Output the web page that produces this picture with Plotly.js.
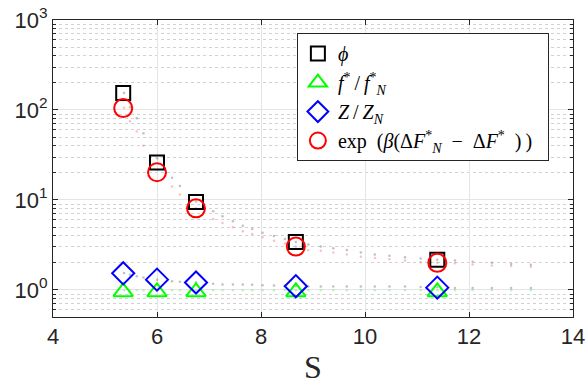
<!DOCTYPE html>
<html>
<head>
<meta charset="utf-8">
<script src="https://cdn.plot.ly/plotly-3.0.1.min.js"></script>
<style>html,body{margin:0;padding:0;background:#fff;}#chart{width:588px;height:385px;}</style>
</head>
<body>
<div id="chart"></div>
<script>
// main markers
const S = [5.35, 6.0, 6.75, 8.67, 11.39];
const phi = [154, 26, 9.5, 3.4, 2.17];
const fRatio = [0.95, 0.95, 0.95, 0.95, 0.95];
const zRatio = [1.53, 1.30, 1.21, 1.10, 1.06];
const expTerm = [105, 20.3, 8.07, 3.03, 2.0];

// fine (faint dotted) curves
const Sfine = [5.365, 5.48, 5.61, 5.74, 6.006, 6.29, 6.44, 6.75, 7.08, 7.26, 7.46, 7.65, 7.83, 8.03, 8.25, 8.46, 8.67, 8.91, 9.15, 9.39, 9.65, 9.92, 10.19, 10.47, 10.77, 11.07, 11.39, 11.73, 12.07, 12.44, 12.81, 13.19];
const phiFine = [154.5, 106.9, 80.7, 55, 28.8, 17.6, 14.3, 9.6, 7.47, 6.57, 5.78, 5.18, 4.76, 4.33, 3.98, 3.69, 3.40, 3.19, 3.03, 2.90, 2.78, 2.60, 2.47, 2.39, 2.30, 2.23, 2.17, 2.12, 2.05, 2.0, 1.94, 1.91];
const expFine = [106, 74.7, 57.8, 40.1, 21.5, 14.1, 11.5, 8.07, 6.15, 5.55, 4.96, 4.48, 4.19, 3.84, 3.53, 3.27, 3.03, 2.78, 2.73, 2.60, 2.47, 2.34, 2.27, 2.19, 2.12, 2.03, 2.0, 1.98, 1.92, 1.87, 1.85, 1.81];
const zFine = [1.54, 1.47, 1.42, 1.37, 1.30, 1.25, 1.23, 1.21, 1.17, 1.15, 1.145, 1.145, 1.14, 1.125, 1.12, 1.11, 1.10, 1.09, 1.09, 1.09, 1.09, 1.09, 1.09, 1.09, 1.09, 1.08, 1.07, 1.05, 1.05, 1.05, 1.05, 1.05];
const fFine = [0.99, 0.99, 0.99, 0.99, 0.99, 0.99, 0.99, 0.99, 0.99, 0.99, 0.99, 0.99, 0.99, 0.99, 0.99, 0.99, 0.99, 0.99, 0.99, 0.99, 0.99, 0.99, 0.99, 0.99, 0.99, 0.99, 0.99, 0.99, 0.99, 0.99, 0.99, 0.99];

const xTickVals = [4, 6, 8, 10, 12, 14];
const yTickVals = [1, 10, 100, 1000];
const yTickText = ['10<sup>0</sup>', '10<sup>1</sup>', '10<sup>2</sup>', '10<sup>3</sup>'];

const legendNames = [
  '<i>ϕ</i>',
  '<i>f</i><sup>*</sup>\u2009/\u2009<i>f</i><sup>*</sup><sub><i>N</i></sub>',
  '<i>Z</i>\u2009/\u2009<i>Z</i><sub><i>N</i></sub>',
  'exp\u2002(<i>β</i>(Δ<i>F</i><sup>*</sup><sub><i>N</i></sub>\u2002−\u2002Δ<i>F</i><sup>*</sup>\u2002)\u2009)\u2002'
];

function dots(y, color) {
  return {x: Sfine, y: y, mode: 'markers', type: 'scatter', showlegend: false, hoverinfo: 'skip',
    marker: {size: 2.5, color: color}};
}

const traces = [
  dots(phiFine, 'rgba(140,140,140,0.55)'),
  dots(expFine, 'rgba(240,120,120,0.45)'),
  dots(zFine, 'rgba(140,140,140,0.55)'),
  dots(fFine, 'rgba(120,230,120,0.45)'),
  {x: S, y: phi, name: legendNames[0], mode: 'markers', type: 'scatter',
   marker: {symbol: 'square-open', size: 14, color: '#000000', line: {width: 2, color: '#000000'}}},
  {x: S, y: fRatio, name: legendNames[1], mode: 'markers', type: 'scatter',
   marker: {symbol: 'triangle-up-open', size: 17, color: '#00ff00', line: {width: 2, color: '#00ff00'}}},
  {x: S, y: zRatio, name: legendNames[2], mode: 'markers', type: 'scatter',
   marker: {symbol: 'diamond-open', size: 17, color: '#0000ff', line: {width: 2, color: '#0000ff'}}},
  {x: S, y: expTerm, name: legendNames[3], mode: 'markers', type: 'scatter',
   marker: {symbol: 'circle-open', size: 18, color: '#ff0000', line: {width: 2, color: '#ff0000'}}}
];

const axisColor = '#262626';
const layout = {
  width: 588, height: 385,
  margin: {l: 53, r: 15, t: 20, b: 68},
  paper_bgcolor: '#ffffff', plot_bgcolor: '#ffffff',
  font: {family: 'Liberation Sans, Arial, sans-serif', color: axisColor},
  showlegend: true,
  xaxis: {
    range: [4, 14], tickvals: xTickVals, ticktext: xTickVals.map(String),
    showline: true, linecolor: axisColor, linewidth: 1, mirror: 'ticks',
    ticks: 'inside', ticklen: 5, tickcolor: axisColor,
    showgrid: true, gridcolor: '#e4e4e4', gridwidth: 1, zeroline: false,
    tickfont: {size: 22, color: axisColor},
    title: {text: 'S', font: {family: 'Liberation Serif, Times New Roman, serif', size: 32, color: axisColor}, standoff: 8}
  },
  yaxis: {
    type: 'log', range: [Math.log10(0.5), 3], tickvals: yTickVals, ticktext: yTickText,
    showline: true, linecolor: axisColor, linewidth: 1, mirror: 'ticks',
    ticks: 'inside', ticklen: 5, tickcolor: axisColor,
    showgrid: true, gridcolor: '#e4e4e4', gridwidth: 1, zeroline: false,
    tickfont: {size: 22, color: axisColor},
    minor: {dtick: 'D1', showgrid: true, griddash: 'dot', gridcolor: '#d2d2d2', gridwidth: 1,
            ticks: 'inside', ticklen: 3, tickcolor: axisColor}
  },
  legend: {
    x: 0.469, y: 0.956, xanchor: 'left', yanchor: 'top',
    bgcolor: '#ffffff', bordercolor: axisColor, borderwidth: 1,
    font: {family: 'Liberation Serif, Times New Roman, serif', size: 20, color: '#000000'},
    tracegroupgap: 0, itemwidth: 30
  }
};

Plotly.newPlot('chart', traces, layout, {staticPlot: true, displayModeBar: false});
</script>
</body>
</html>
